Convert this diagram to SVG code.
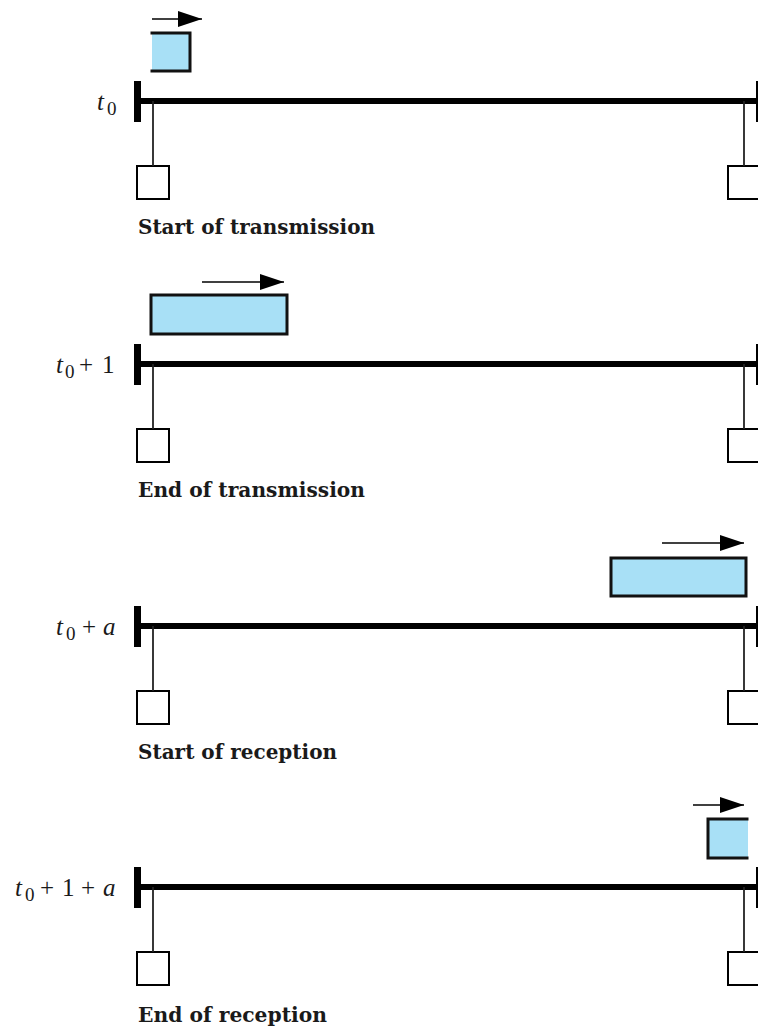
<svg xmlns="http://www.w3.org/2000/svg" width="758" height="1029" viewBox="0 0 758 1029">
  <style>
    .bus { fill: #000; }
    .tick { fill: #000; }
    .station { fill: #fff; stroke: #000; stroke-width: 2; }
    .stem { stroke: #222; stroke-width: 1.8; fill: none; }
    .frame { fill: #a8e0f6; }
    .edge { stroke: #111; stroke-width: 3; fill: none; stroke-linecap: square; }
    .dir { stroke: #000; stroke-width: 1.6; fill: none; }
    .caption { font-family: "DejaVu Serif", "Liberation Serif", serif; font-weight: bold; font-size: 21px; fill: #1a1a1a; }
    .time { font-family: "Liberation Serif", "Times New Roman", serif; font-size: 25px; fill: #1a1a1a; }
    .v { font-style: italic; }
    .sub { font-size: 19px; }
  </style>
  <defs>
    <marker id="head" viewBox="0 0 24 16" refX="24" refY="8" markerWidth="24" markerHeight="16" markerUnits="userSpaceOnUse" orient="auto">
      <path d="M0,0 L24,8 L0,16 z" fill="#000"/>
    </marker>
  </defs>

  <!-- Panel 1: start of transmission -->
  <g id="panel-t0">
    <g id="bus-1">
      <rect class="bus" x="134" y="98" width="624" height="6"/>
      <rect class="tick" x="134" y="81" width="7" height="41"/>
      <rect class="tick" x="756" y="81" width="7" height="41"/>
    </g>
    <g id="frame-1">
      <rect class="frame" x="152" y="33" width="38" height="38"/>
      <path class="edge" d="M152,33 H190 V71 H152"/>
    </g>
    <g id="sender-1"><rect class="station" x="137" y="166" width="32" height="33"/></g>
    <g id="receiver-1"><rect class="station" x="728" y="166" width="40" height="33"/></g>
    <g class="time">
      <text class="v" x="97" y="110">t</text>
      <text class="sub" x="107" y="115">0</text>
    </g>
    <text class="caption" x="138" y="234" textLength="237" lengthAdjust="spacingAndGlyphs">Start of transmission</text>
  </g>

  <!-- Panel 2: end of transmission -->
  <g id="panel-t0-1">
    <g id="bus-2">
      <rect class="bus" x="134" y="361" width="624" height="6"/>
      <rect class="tick" x="134" y="344" width="7" height="41"/>
      <rect class="tick" x="756" y="344" width="7" height="41"/>
    </g>
    <g id="frame-2">
      <rect class="frame" x="151" y="295" width="136" height="39"/>
      <rect class="edge" x="151" y="295" width="136" height="39"/>
    </g>
    <g id="sender-2"><rect class="station" x="137" y="429" width="32" height="33"/></g>
    <g id="receiver-2"><rect class="station" x="728" y="429" width="40" height="33"/></g>
    <g class="time">
      <text class="v" x="56" y="373">t</text>
      <text class="sub" x="65" y="378">0</text>
      <text x="79" y="373">+</text>
      <text x="102" y="373">1</text>
    </g>
    <text class="caption" x="138" y="497" textLength="227" lengthAdjust="spacingAndGlyphs">End of transmission</text>
  </g>

  <!-- Panel 3: start of reception -->
  <g id="panel-t0-a">
    <g id="bus-3">
      <rect class="bus" x="134" y="623" width="624" height="6"/>
      <rect class="tick" x="134" y="606" width="7" height="41"/>
      <rect class="tick" x="756" y="606" width="7" height="41"/>
    </g>
    <g id="frame-3">
      <rect class="frame" x="611" y="558" width="135" height="38"/>
      <rect class="edge" x="611" y="558" width="135" height="38"/>
    </g>
    <g id="sender-3"><rect class="station" x="137" y="691" width="32" height="33"/></g>
    <g id="receiver-3"><rect class="station" x="728" y="691" width="40" height="33"/></g>
    <g class="time">
      <text class="v" x="56" y="635">t</text>
      <text class="sub" x="66" y="640">0</text>
      <text x="82" y="635">+</text>
      <text class="v" x="103" y="635">a</text>
    </g>
    <text class="caption" x="138" y="759" textLength="199" lengthAdjust="spacingAndGlyphs">Start of reception</text>
  </g>

  <!-- Panel 4: end of reception -->
  <g id="panel-t0-1-a">
    <g id="bus-4">
      <rect class="bus" x="134" y="884" width="624" height="6"/>
      <rect class="tick" x="134" y="867" width="7" height="41"/>
      <rect class="tick" x="756" y="867" width="7" height="41"/>
    </g>
    <g id="frame-4">
      <rect class="frame" x="708" y="819" width="40" height="39"/>
      <path class="edge" d="M747,819 H708 V858 H747"/>
    </g>
    <g id="sender-4"><rect class="station" x="137" y="952" width="32" height="33"/></g>
    <g id="receiver-4"><rect class="station" x="728" y="952" width="40" height="33"/></g>
    <g class="time">
      <text class="v" x="15" y="896">t</text>
      <text class="sub" x="25" y="901">0</text>
      <text x="40" y="896">+</text>
      <text x="62" y="896">1</text>
      <text x="81" y="896">+</text>
      <text class="v" x="103" y="896">a</text>
    </g>
    <text class="caption" x="138" y="1022" textLength="189" lengthAdjust="spacingAndGlyphs">End of reception</text>
  </g>

  <!-- Drop cables and direction arrows -->
  <g id="connectors">
    <line class="stem" x1="153" y1="101" x2="153" y2="166"/>
    <line class="stem" x1="744" y1="101" x2="744" y2="166"/>
    <line class="stem" x1="153" y1="364" x2="153" y2="429"/>
    <line class="stem" x1="744" y1="364" x2="744" y2="429"/>
    <line class="stem" x1="153" y1="626" x2="153" y2="691"/>
    <line class="stem" x1="744" y1="626" x2="744" y2="691"/>
    <line class="stem" x1="153" y1="887" x2="153" y2="952"/>
    <line class="stem" x1="744" y1="887" x2="744" y2="952"/>

    <line class="dir" x1="152" y1="19" x2="202" y2="19" marker-end="url(#head)"/>
    <line class="dir" x1="202" y1="282" x2="284" y2="282" marker-end="url(#head)"/>
    <line class="dir" x1="662" y1="543" x2="744" y2="543" marker-end="url(#head)"/>
    <line class="dir" x1="693" y1="805" x2="744" y2="805" marker-end="url(#head)"/>
  </g>
</svg>
